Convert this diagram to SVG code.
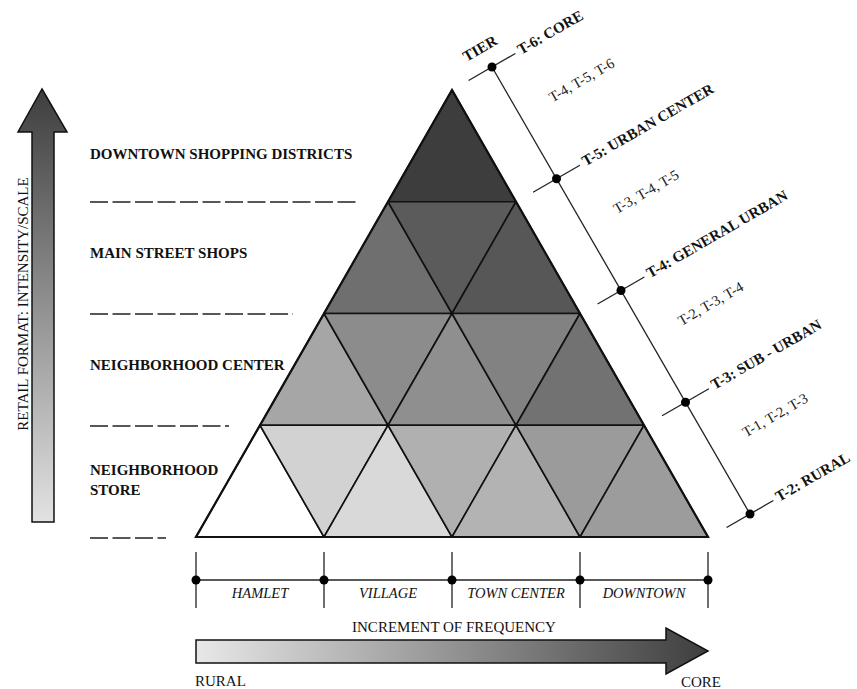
<svg xmlns="http://www.w3.org/2000/svg" width="857" height="689" viewBox="0 0 857 689">
<defs>
<linearGradient id="gv" x1="0" y1="0" x2="0" y2="1">
<stop offset="0" stop-color="#3e3e3e"/>
<stop offset="1" stop-color="#e2e2e2"/>
</linearGradient>
<linearGradient id="gh" x1="0" y1="0" x2="1" y2="0">
<stop offset="0" stop-color="#e8e8e8"/>
<stop offset="1" stop-color="#3e3e3e"/>
</linearGradient>
<style>
.cell{stroke:#111;stroke-width:1.6;stroke-linejoin:round}
.lbl{font-family:"Liberation Serif","Times New Roman",serif;font-weight:bold;font-size:15px;fill:#111}
.tier{font-family:"Liberation Serif","Times New Roman",serif;font-weight:bold;font-size:15px;fill:#111}
.rng{font-family:"Liberation Serif","Times New Roman",serif;font-size:14.5px;fill:#222}
.ax{font-family:"Liberation Serif","Times New Roman",serif;font-style:italic;font-size:14.5px;fill:#111}
.reg{font-family:"Liberation Serif","Times New Roman",serif;font-size:15px;fill:#111}
.dash{stroke:#222;stroke-width:1.6;stroke-dasharray:18 4.5;fill:none}
.ln{stroke:#222;stroke-width:1.3;fill:none}
.dot{fill:#000}
</style>
</defs>
<rect width="857" height="689" fill="#fff"/>

<g id="triangle">
<polygon class="cell" fill="#3d3d3d" points="452,90 388,201.75 516,201.75"/>
<polygon class="cell" fill="#6f6f6f" points="388,201.75 324,313.5 452,313.5"/>
<polygon class="cell" fill="#5b5b5b" points="388,201.75 516,201.75 452,313.5"/>
<polygon class="cell" fill="#575757" points="516,201.75 452,313.5 580,313.5"/>
<polygon class="cell" fill="#a6a6a6" points="324,313.5 260,425.25 388,425.25"/>
<polygon class="cell" fill="#8c8c8c" points="324,313.5 452,313.5 388,425.25"/>
<polygon class="cell" fill="#8f8f8f" points="452,313.5 388,425.25 516,425.25"/>
<polygon class="cell" fill="#828282" points="452,313.5 580,313.5 516,425.25"/>
<polygon class="cell" fill="#727272" points="580,313.5 516,425.25 644,425.25"/>
<polygon class="cell" fill="#ffffff" points="260,425.25 196,537 324,537"/>
<polygon class="cell" fill="#d2d2d2" points="260,425.25 388,425.25 324,537"/>
<polygon class="cell" fill="#d9d9d9" points="388,425.25 324,537 452,537"/>
<polygon class="cell" fill="#b0b0b0" points="388,425.25 516,425.25 452,537"/>
<polygon class="cell" fill="#b3b3b3" points="516,425.25 452,537 580,537"/>
<polygon class="cell" fill="#9b9b9b" points="516,425.25 644,425.25 580,537"/>
<polygon class="cell" fill="#9c9c9c" points="644,425.25 580,537 708,537"/>
<polygon fill="none" stroke="#111" stroke-width="2.2" stroke-linejoin="miter" points="452,90 196,537 708,537"/>
</g>

<g id="left-labels">
<text class="lbl" x="90" y="159">DOWNTOWN SHOPPING DISTRICTS</text>
<text class="lbl" x="90" y="258">MAIN STREET SHOPS</text>
<text class="lbl" x="90" y="370">NEIGHBORHOOD CENTER</text>
<text class="lbl" x="90" y="475">NEIGHBORHOOD</text>
<text class="lbl" x="90" y="495">STORE</text>
</g>

<g id="dividers">
<line class="dash" x1="90" y1="202" x2="357" y2="202"/>
<line class="dash" x1="90" y1="314" x2="293" y2="314" stroke-dasharray="2 4 18 4.5"/>
<line class="dash" x1="90" y1="426" x2="229" y2="426" stroke-dasharray="6 4.5 18 4.5"/>
<line class="dash" x1="90" y1="538" x2="166" y2="538"/>
</g>

<g id="intensity-arrow">
<polygon fill="url(#gv)" stroke="#111" stroke-width="1.5" points="42,89 67,132 54,132 54,522 32,522 32,132 18,132"/>
<text class="reg" transform="translate(27.5,304) rotate(-90)" text-anchor="middle">RETAIL FORMAT: INTENSITY/SCALE</text>
</g>

<g id="tier-axis">
<line class="ln" x1="492" y1="67" x2="750" y2="514"/>
<line class="ln" x1="468.6" y1="80.5" x2="515.4" y2="53.5"/>
<line class="ln" x1="533.1" y1="192.25" x2="579.9" y2="165.25"/>
<line class="ln" x1="597.6" y1="304" x2="644.4" y2="277"/>
<line class="ln" x1="662.1" y1="415.75" x2="708.9" y2="388.75"/>
<line class="ln" x1="726.6" y1="527.5" x2="773.4" y2="500.5"/>
<circle class="dot" cx="492" cy="67" r="4.5"/>
<circle class="dot" cx="556.5" cy="178.75" r="4.5"/>
<circle class="dot" cx="621" cy="290.5" r="4.5"/>
<circle class="dot" cx="685.5" cy="402.25" r="4.5"/>
<circle class="dot" cx="750" cy="514" r="4.5"/>
</g>

<g id="tier-labels">
<text class="tier" transform="translate(466.5,62) rotate(-30)">TIER</text>
<text class="tier" transform="translate(521,55) rotate(-30)">T-6: CORE</text>
<text class="tier" transform="translate(585.5,166.5) rotate(-30)">T-5: URBAN CENTER</text>
<text class="tier" transform="translate(650,278.5) rotate(-30)">T-4: GENERAL URBAN</text>
<text class="tier" transform="translate(714.5,390) rotate(-30)">T-3: SUB - URBAN</text>
<text class="tier" transform="translate(779,502) rotate(-30)">T-2: RURAL</text>
<text class="rng" transform="translate(552.5,102.5) rotate(-30)">T-4, T-5, T-6</text>
<text class="rng" transform="translate(617,214) rotate(-30)">T-3, T-4, T-5</text>
<text class="rng" transform="translate(681.5,326) rotate(-30)">T-2, T-3, T-4</text>
<text class="rng" transform="translate(746,437.5) rotate(-30)">T-1, T-2, T-3</text>
</g>

<g id="settlement-axis">
<line class="ln" x1="196" y1="580" x2="708" y2="580"/>
<line class="ln" x1="196" y1="552" x2="196" y2="608"/>
<line class="ln" x1="324" y1="552" x2="324" y2="608"/>
<line class="ln" x1="452" y1="552" x2="452" y2="608"/>
<line class="ln" x1="580" y1="552" x2="580" y2="608"/>
<line class="ln" x1="708" y1="552" x2="708" y2="608"/>
<circle class="dot" cx="196" cy="580" r="4.5"/>
<circle class="dot" cx="324" cy="580" r="4.5"/>
<circle class="dot" cx="452" cy="580" r="4.5"/>
<circle class="dot" cx="580" cy="580" r="4.5"/>
<circle class="dot" cx="708" cy="580" r="4.5"/>
<text class="ax" x="260" y="598" text-anchor="middle">HAMLET</text>
<text class="ax" x="388" y="598" text-anchor="middle">VILLAGE</text>
<text class="ax" x="516" y="598" text-anchor="middle">TOWN CENTER</text>
<text class="ax" x="644" y="598" text-anchor="middle">DOWNTOWN</text>
</g>

<g id="frequency-arrow">
<text class="reg" x="454" y="632" text-anchor="middle">INCREMENT OF FREQUENCY</text>
<polygon fill="url(#gh)" stroke="#111" stroke-width="1.5" points="196,640 666,640 666,628 708,651 666,674 666,663 196,663"/>
<text class="reg" x="195" y="686">RURAL</text>
<text class="reg" x="701" y="687" text-anchor="middle">CORE</text>
</g>
</svg>
